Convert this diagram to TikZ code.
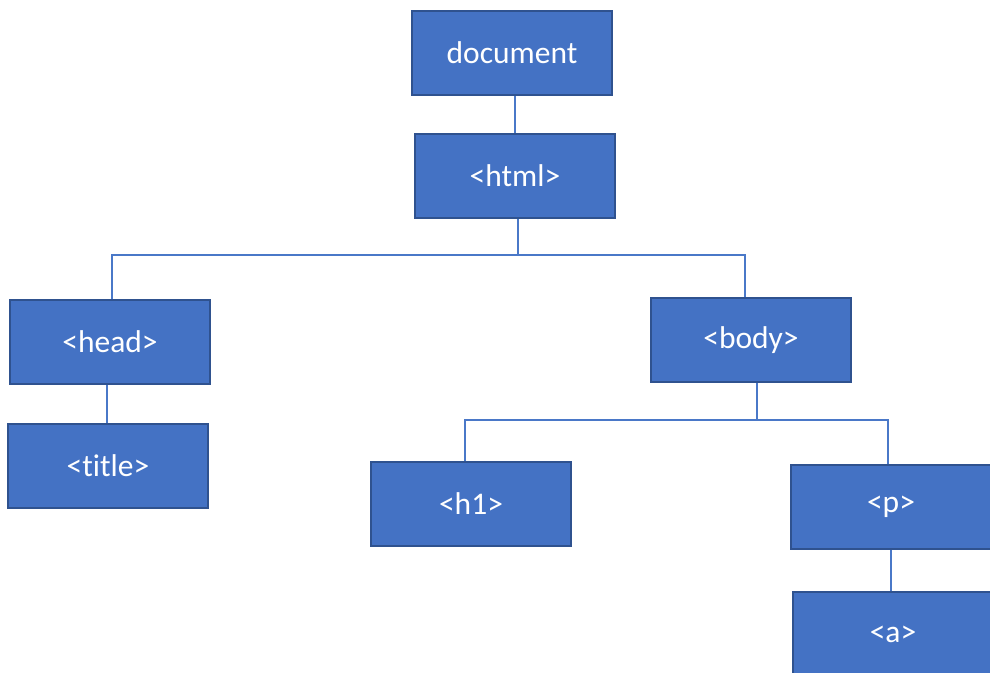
\documentclass[tikz,border=0pt]{standalone}
\usepackage{fontspec}
\setmainfont{Carlito}[Ligatures=NoCommon]
\definecolor{boxfill}{HTML}{4472C4}
\definecolor{boxline}{HTML}{2F528F}
\definecolor{connc}{HTML}{4A78C8}
\begin{document}
\begin{tikzpicture}[x=1pt,y=-1pt,
  box/.style={draw=boxline, fill=boxfill, line width=2.5pt, minimum width=200pt, minimum height=84pt,
    text=white, font=\fontsize{31.5}{37}\selectfont, inner sep=0pt},
  conn/.style={draw=connc, line width=1.4pt}]
\useasboundingbox (0,0) rectangle (990,672);
\node[box] (doc) at (512,53) {document};
\node[box] (html) at (515,176) {<html>};
\node[box] (head) at (110,342) {<head>};
\node[box] (body) at (751,340) {<body>};
\node[box] (title) at (108,466) {<title>};
\node[box] (h1) at (471,504) {<h1>};
\node[box] (p) at (891,507) {<p>};
\node[box] (a) at (893,634) {<a>};
\coordinate (j1) at (518,255);
\coordinate (j2) at (757,420);
\draw[conn] (html.north) -- (html.north |- doc.south);
\draw[conn] (html.south -| j1) -- (j1);
\draw[conn] ([xshift=2pt]head.north) |- (j1) -| ([xshift=-6pt]body.north);
\draw[conn] (body.south -| j2) -- (j2);
\draw[conn] ([xshift=-6pt]h1.north) |- (j2) -| ([xshift=-3pt]p.north);
\draw[conn] ([xshift=-1pt]title.north) -- ([xshift=-1pt]title.north |- head.south);
\draw[conn] ([xshift=-2pt]a.north) -- ([xshift=-2pt]a.north |- p.south);
\end{tikzpicture}
\end{document}
